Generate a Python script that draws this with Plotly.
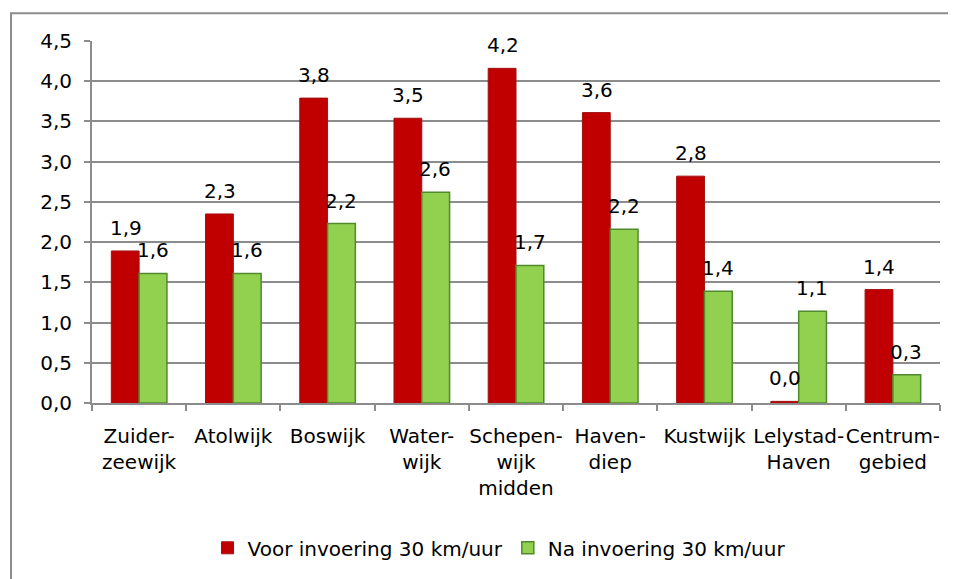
import plotly.graph_objects as go

WIJKEN = [
    "Zuider-<br>zeewijk", "Atolwijk", "Boswijk", "Water-<br>wijk",
    "Schepen-<br>wijk<br>midden", "Haven-<br>diep", "Kustwijk",
    "Lelystad-<br>Haven", "Centrum-<br>gebied",
]
VOOR = [1.89, 2.35, 3.79, 3.54, 4.16, 3.61, 2.82, 0.02, 1.41]
NA = [1.61, 1.61, 2.23, 2.62, 1.71, 2.16, 1.39, 1.14, 0.35]
VOOR_LABELS = ["1,9", "2,3", "3,8", "3,5", "4,2", "3,6", "2,8", "0,0", "1,4"]
NA_LABELS = ["1,6", "1,6", "2,2", "2,6", "1,7", "2,2", "1,4", "1,1", "0,3"]

FONT = "DejaVu Sans, sans-serif"
SIZE = 20

fig = go.Figure()
fig.add_trace(go.Bar(
    x=WIJKEN, y=VOOR, name="Voor invoering 30 km/uur",
    marker=dict(color="#c00000", line=dict(color="#a01010", width=1)),
))
fig.add_trace(go.Bar(
    x=WIJKEN, y=NA, name="Na invoering 30 km/uur",
    marker=dict(color="#92d050", line=dict(color="#4f8a2c", width=1.5)),
))

# value labels sit well above the bars, so use annotations instead of bar text
for values, labels, shift in ((VOOR, VOOR_LABELS, -13.5), (NA, NA_LABELS, 13.5)):
    for cat, val, lab in zip(WIJKEN, values, labels):
        fig.add_annotation(
            x=cat, y=val, text=lab, showarrow=False,
            xshift=shift, yshift=9, yanchor="bottom",
            font=dict(size=SIZE, color="#000000", family=FONT),
        )

# outer chart border
fig.add_shape(
    type="rect", xref="paper", yref="paper",
    x0=-0.0955, x1=1.05, y0=-0.6, y1=1.077,
    line=dict(color="#8c8c8c", width=2), fillcolor="rgba(0,0,0,0)",
)

# page body has an 8px margin, so the figure is shifted by 8px
fig.update_layout(
    width=948, height=571,
    paper_bgcolor="#ffffff", plot_bgcolor="#ffffff",
    margin=dict(l=84, r=16, t=33, b=174),
    separators=",.",
    barmode="group", bargap=0.41, bargroupgap=0,
    font=dict(family=FONT, size=SIZE, color="#000000"),
    legend=dict(
        orientation="h", x=0.48, xanchor="center", y=-0.40, yanchor="middle",
        font=dict(size=SIZE, family=FONT), itemwidth=30,
    ),
    xaxis=dict(
        showgrid=False, zeroline=False,
        showline=True, linecolor="#8c8c8c", linewidth=2,
        ticks="outside", tickson="boundaries", ticklen=6, tickcolor="#8c8c8c",
        tickwidth=2, tickfont=dict(size=SIZE, family=FONT), tickangle=0,
        ticklabelstandoff=14,
    ),
    yaxis=dict(
        range=[0, 4.5], dtick=0.5, tickformat=".1f",
        showgrid=True, gridcolor="#8c8c8c", gridwidth=2,
        zeroline=False, showline=True, linecolor="#8c8c8c", linewidth=2,
        ticks="outside", ticklen=6, tickcolor="#8c8c8c", tickwidth=2,
        tickfont=dict(size=SIZE, family=FONT), ticklabelstandoff=8,
    ),
)

fig.write_html("out.html")
